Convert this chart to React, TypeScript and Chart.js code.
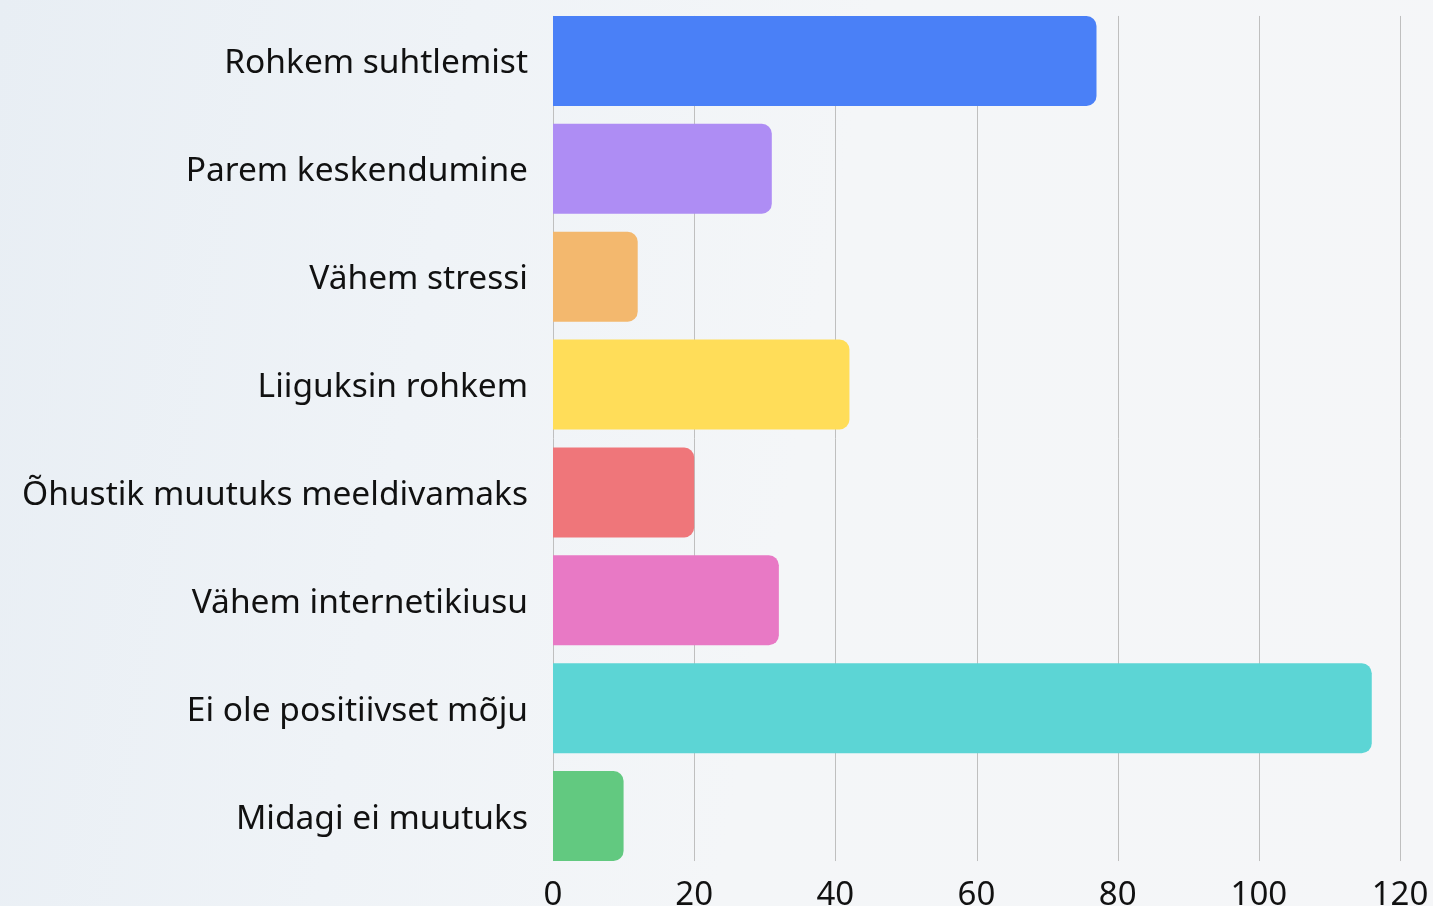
import React, { useEffect, useRef } from "react";
import { Chart, registerables } from "chart.js";

Chart.register(...registerables);

const categories = [
  "Rohkem suhtlemist",
  "Parem keskendumine",
  "Vähem stressi",
  "Liiguksin rohkem",
  "Õhustik muutuks meeldivamaks",
  "Vähem internetikiusu",
  "Ei ole positiivset mõju",
  "Midagi ei muutuks",
];
const values = [77, 31, 12, 42, 20, 32, 116, 10];
const barColors = [
  "#4A80F7",
  "#AE8DF4",
  "#F3B86E",
  "#FFDD59",
  "#EF767A",
  "#E879C5",
  "#5CD5D5",
  "#62C980",
];
const xTicks = [0, 20, 40, 60, 80, 100, 120];

const gridPlugin = {
  id: "barGrid",
  beforeDatasetsDraw(chart: any) {
    const meta = chart.getDatasetMeta(0);
    const els = meta.data;
    if (!els || !els.length) return;
    const first = els[0];
    const last = els[els.length - 1];
    const top = first.y - first.height / 2;
    const bottom = last.y + last.height / 2;
    const xs = chart.scales.x;
    const ctx = chart.ctx;
    ctx.save();
    ctx.strokeStyle = "#bfbfbf";
    ctx.lineWidth = 1;
    xTicks.forEach((v) => {
      const x = Math.round(xs.getPixelForValue(v)) + 0.5;
      ctx.beginPath();
      ctx.moveTo(x, top);
      ctx.lineTo(x, bottom);
      ctx.stroke();
    });
    ctx.restore();
  },
};

export default function App() {
  const ref = useRef<HTMLCanvasElement | null>(null);
  useEffect(() => {
    document.body.style.margin = "0";
    document.body.style.background =
      "linear-gradient(100deg, #e8eef4 0%, #eff3f7 30%, #f4f6f8 55%, #f5f6f8 100%)";
    if (!ref.current) return;
    const chart = new Chart(ref.current, {
      type: "bar",
      data: {
        labels: categories,
        datasets: [
          {
            data: values,
            backgroundColor: barColors,
            borderRadius: { topLeft: 0, bottomLeft: 0, topRight: 10, bottomRight: 10 },
            borderSkipped: false,
            barPercentage: 0.834,
            categoryPercentage: 1,
          },
        ],
      },
      plugins: [gridPlugin],
      options: {
        indexAxis: "y",
        animation: false,
        responsive: false,
        maintainAspectRatio: false,
        layout: { padding: { top: 7, left: 0, right: 0, bottom: 0 } },
        plugins: { legend: { display: false }, tooltip: { enabled: false } },
        scales: {
          x: {
            min: 0,
            max: 120,
            afterBuildTicks: (scale: any) => {
              scale.ticks = xTicks.map((v) => ({ value: v }));
            },
            afterFit: (scale: any) => {
              scale.height = 36;
              scale.paddingRight = 33;
            },
            grid: { display: false, drawTicks: false },
            border: { display: false },
            ticks: {
              color: "#111111",
              padding: 6,
              font: { family: "'Noto Sans', sans-serif", size: 33 },
            },
          },
          y: {
            afterFit: (scale: any) => {
              scale.width = 553;
              scale.paddingTop = 0;
              scale.paddingBottom = 0;
            },
            grid: { display: false, drawTicks: false },
            border: { display: false },
            ticks: {
              color: "#111111",
              padding: 25,
              labelOffset: 3,
              font: { family: "'Noto Sans', sans-serif", size: 33.5 },
            },
          },
        },
      },
    });
    return () => chart.destroy();
  }, []);
  return (
    <div style={{ width: 1433, height: 906 }}>
      <canvas ref={ref} width={1433} height={906} style={{ display: "block" }} />
    </div>
  );
}
